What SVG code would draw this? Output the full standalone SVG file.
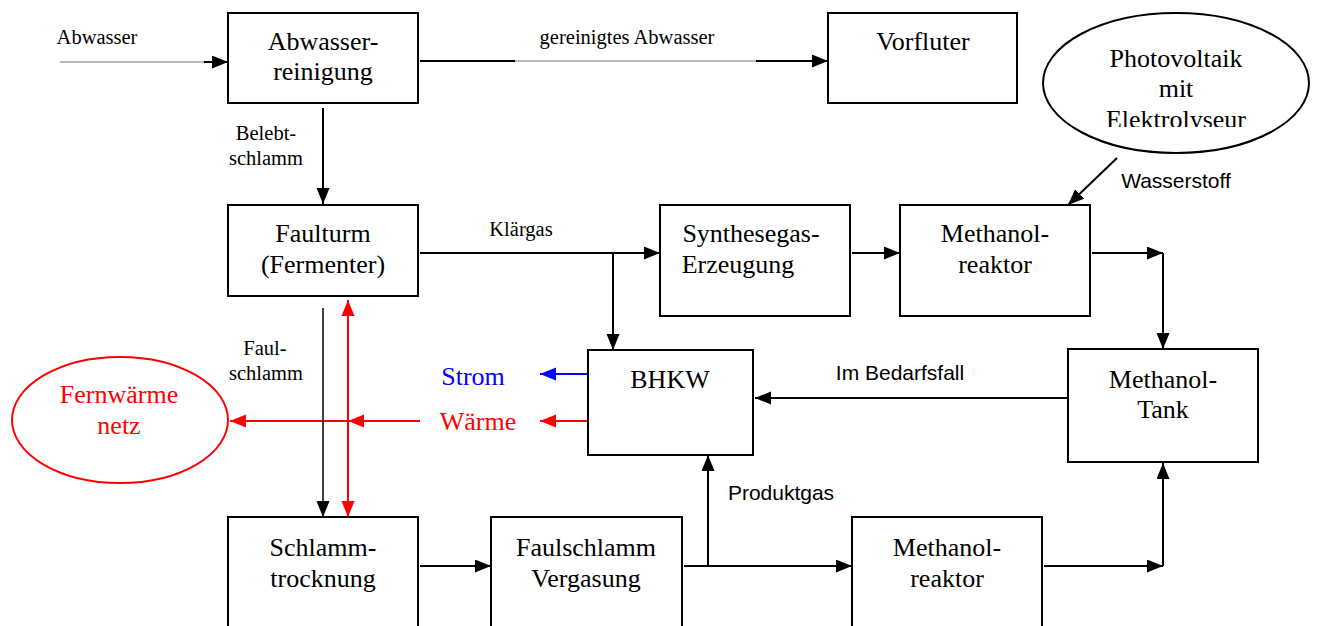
<svg xmlns="http://www.w3.org/2000/svg" width="1317" height="626" viewBox="0 0 1317 626">
<style>
.box{fill:#fff;stroke:#000;stroke-width:2}
.t{font-family:"Liberation Serif","Times New Roman",serif;font-size:26px;text-anchor:middle;fill:#000}
.s{font-family:"Liberation Serif","Times New Roman",serif;font-size:20.5px;text-anchor:middle;fill:#000}
.a{font-family:"Liberation Sans",Arial,sans-serif;font-size:21px;text-anchor:middle;fill:#000}
.c{fill:none;stroke:#000;stroke-width:2}
.thin{fill:none;stroke:#777;stroke-width:1}
.red{fill:none;stroke:#f00;stroke-width:2}
.blue{fill:none;stroke:#00f;stroke-width:2}
</style>
<defs>
<marker id="ak" markerUnits="userSpaceOnUse" markerWidth="17" markerHeight="14" refX="16" refY="6.5" orient="auto"><path d="M0,0 L16,6.5 L0,13 z" fill="#000"/></marker>
<marker id="ar" markerUnits="userSpaceOnUse" markerWidth="17" markerHeight="14" refX="16" refY="6.5" orient="auto"><path d="M0,0 L16,6.5 L0,13 z" fill="#f00"/></marker>
<marker id="ars" markerUnits="userSpaceOnUse" markerWidth="17" markerHeight="14" refX="0" refY="6.5" orient="auto"><path d="M16,0 L0,6.5 L16,13 z" fill="#f00"/></marker>
<marker id="ab" markerUnits="userSpaceOnUse" markerWidth="17" markerHeight="14" refX="16" refY="6.5" orient="auto"><path d="M0,0 L16,6.5 L0,13 z" fill="#00f"/></marker>
<clipPath id="pvclip"><rect x="1000" y="0" width="317" height="127"/></clipPath>
</defs>
<g id="connectors">
<path class="thin" d="M60,62 H206"/>
<path class="c" d="M204,62 H228" marker-end="url(#ak)"/>
<path class="c" d="M420,61 H515"/>
<path class="thin" d="M515,61 H756"/>
<path class="c" d="M756,61 H828" marker-end="url(#ak)"/>
<path class="c" d="M323,108 V204" marker-end="url(#ak)"/>
<path class="c" d="M420,253 H660" marker-end="url(#ak)"/>
<path class="c" d="M613,253 V350" marker-end="url(#ak)"/>
<path class="c" d="M852,253 H900" marker-end="url(#ak)"/>
<path class="c" d="M1092,253 H1163" marker-end="url(#ak)"/>
<path class="c" d="M1163,253 V349" marker-end="url(#ak)"/>
<path class="c" d="M1117,158 L1068,205" marker-end="url(#ak)"/>
<path class="c" d="M1068,398 H755" marker-end="url(#ak)"/>
<path class="blue" d="M588,374 H540" marker-end="url(#ab)"/>
<path class="red" d="M588,421 H540" marker-end="url(#ar)"/>
<path class="red" d="M420,421 H348" marker-end="url(#ar)"/>
<path class="red" d="M348,421 H230" marker-end="url(#ar)"/>
<path class="c" d="M323,308 V517" marker-end="url(#ak)" style="stroke-width:1.5"/>
<path class="red" d="M348,300 V517" marker-start="url(#ars)" marker-end="url(#ar)"/>
<path class="c" d="M420,566 H491" marker-end="url(#ak)"/>
<path class="c" d="M684,566 H852" marker-end="url(#ak)"/>
<path class="c" d="M708,566 V455" marker-end="url(#ak)"/>
<path class="c" d="M1044,566 H1163" marker-end="url(#ak)"/>
<path class="c" d="M1163,566 V463" marker-end="url(#ak)"/>
</g>
<g id="labels">
<text class="s" x="97" y="44">Abwasser</text>
<text class="s" x="627" y="44">gereinigtes Abwasser</text>
<text class="s" x="266" y="140">Belebt-</text>
<text class="s" x="266" y="165">schlamm</text>
<text class="s" x="521" y="236">Klärgas</text>
<text class="s" x="265" y="355">Faul-</text>
<text class="s" x="266" y="380">schlamm</text>
<text class="a" x="1176" y="188">Wasserstoff</text>
<text class="a" x="900" y="380">Im Bedarfsfall</text>
<text class="a" x="781" y="500">Produktgas</text>
<text class="t" x="473" y="385" style="fill:#00f">Strom</text>
<text class="t" x="478" y="430" style="fill:#f00">Wärme</text>
</g>
<g id="abwasserreinigung">
<rect class="box" x="228" y="13" width="190" height="90"/>
<text class="t" x="323" y="50">Abwasser-</text>
<text class="t" x="323" y="80">reinigung</text>
</g>
<g id="vorfluter">
<rect class="box" x="828" y="13" width="189" height="90"/>
<text class="t" x="923" y="50">Vorfluter</text>
</g>
<g id="photovoltaik">
<ellipse cx="1176" cy="83" rx="133" ry="70" fill="#fff" stroke="#000" stroke-width="2"/>
<g clip-path="url(#pvclip)">
<text class="t" x="1176" y="67">Photovoltaik</text>
<text class="t" x="1176" y="97">mit</text>
<text class="t" x="1176" y="128">Elektrolyseur</text>
</g>
</g>
<g id="faulturm">
<rect class="box" x="228" y="205" width="190" height="91"/>
<text class="t" x="323" y="242">Faulturm</text>
<text class="t" x="323" y="273">(Fermenter)</text>
</g>
<g id="synthesegas">
<rect class="box" x="660" y="205" width="190" height="111"/>
<text class="t" x="751" y="242">Synthesegas-</text>
<text class="t" x="738" y="273">Erzeugung</text>
</g>
<g id="methanolreaktor1">
<rect class="box" x="900" y="205" width="190" height="111"/>
<text class="t" x="995" y="242">Methanol-</text>
<text class="t" x="995" y="273">reaktor</text>
</g>
<g id="bhkw">
<rect class="box" x="588" y="350" width="165" height="105"/>
<text class="t" x="670" y="388">BHKW</text>
</g>
<g id="methanoltank">
<rect class="box" x="1068" y="349" width="190" height="113"/>
<text class="t" x="1163" y="388">Methanol-</text>
<text class="t" x="1163" y="418">Tank</text>
</g>
<g id="fernwaerme">
<ellipse cx="120" cy="420" rx="108" ry="63" fill="#fff" stroke="#f00" stroke-width="2"/>
<text class="t" x="119" y="403" style="fill:#f00">Fernwärme</text>
<text class="t" x="119" y="434" style="fill:#f00">netz</text>
</g>
<g id="schlammtrocknung">
<rect class="box" x="228" y="517" width="190" height="130"/>
<text class="t" x="323" y="556">Schlamm-</text>
<text class="t" x="323" y="587">trocknung</text>
</g>
<g id="vergasung">
<rect class="box" x="491" y="517" width="191" height="130"/>
<text class="t" x="586" y="556">Faulschlamm</text>
<text class="t" x="586" y="587">Vergasung</text>
</g>
<g id="methanolreaktor2">
<rect class="box" x="852" y="517" width="190" height="130"/>
<text class="t" x="947" y="556">Methanol-</text>
<text class="t" x="947" y="587">reaktor</text>
</g>
</svg>
